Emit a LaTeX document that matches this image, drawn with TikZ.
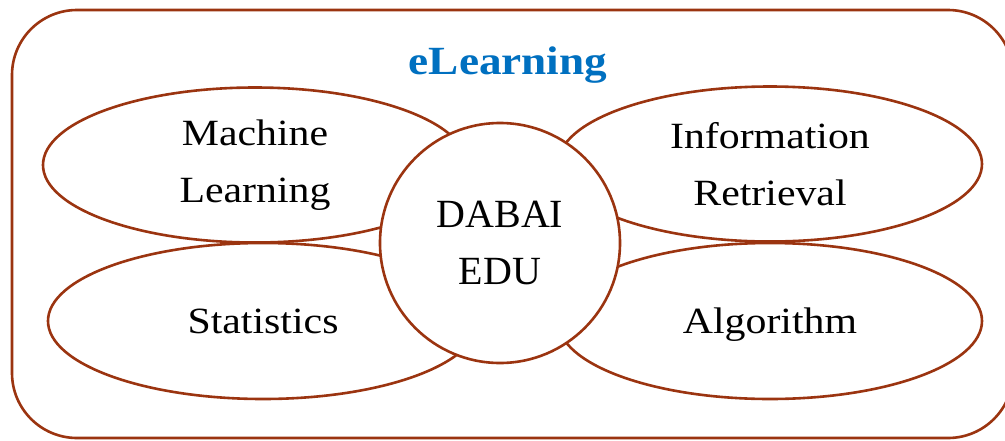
\documentclass[tikz,border=0pt]{standalone}
\usepackage{fontspec}
\setmainfont[FakeStretch=1.13]{Liberation Serif}
\newfontfamily\plainserif{Liberation Serif}
\usetikzlibrary{shapes.geometric}
\definecolor{rim}{RGB}{155,52,16}
\definecolor{titleblue}{RGB}{0,112,192}
\tikzset{
  rim/.style={draw=rim, line width=2.6pt},
  topic/.style={rim, ellipse, fill=white, inner sep=0pt, align=center,
    font=\fontsize{37}{57}\selectfont},
  oneline/.style={text height=30pt, text depth=6pt},
  hub/.style={rim, circle, fill=white, inner sep=0pt, minimum size=240pt,
    align=center, font=\plainserif\fontsize{40}{57}\selectfont},
}
\begin{document}
\begin{tikzpicture}[x=1pt, y=-1pt]
  \useasboundingbox (0,0) rectangle (1005,440);
  \fill[white] (0,0) rectangle (1005,440);
  % outer frame
  \draw[rim, rounded corners=65pt] (12,10) rectangle (1013,438);
  \node[font=\bfseries\fontsize{40}{45}\selectfont, text=titleblue] (title) at (508,65) {eLearning};
  % the four topics
  \node[topic, minimum width=424pt, minimum height=155pt] (ml) at (255,165) {Machine\\Learning};
  \node[topic, oneline, minimum width=430pt, minimum height=156pt] (st) at (263,321) {Statistics};
  \node[topic, minimum width=424pt, minimum height=155pt] (ir) at (770,164) {Information\\Retrieval};
  \node[topic, oneline, minimum width=424pt, minimum height=156pt] (al) at (770,321) {Algorithm};
  % centre
  \node[hub] (hub) at (500,243) {DABAI\\EDU};
\end{tikzpicture}
\end{document}
